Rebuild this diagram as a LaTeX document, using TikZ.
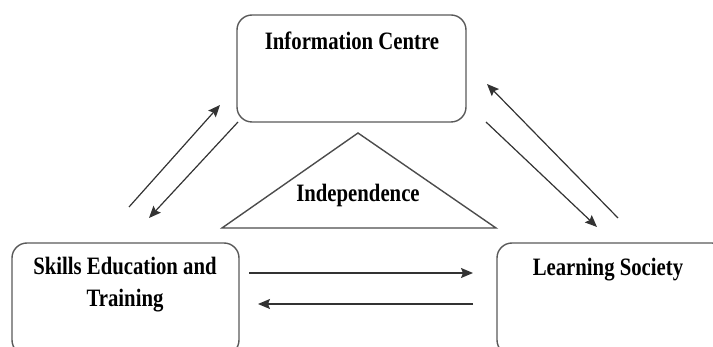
\documentclass[tikz,border=0pt]{standalone}
\usepackage{fontspec}
\setmainfont[FakeStretch=0.83]{Liberation Serif}
\usetikzlibrary{arrows.meta}
\tikzset{
  box/.style={draw=black!65, line width=1.4pt, rounded corners=15pt, inner sep=0pt},
  lbl/.style={font=\fontsize{25}{32}\selectfont\bfseries, inner sep=0pt, anchor=base, text=black},
  conn/.style={draw=black!80, line width=1.2pt, -{Stealth[length=12pt,width=10pt,inset=2pt]}},
}
\begin{document}
\begin{tikzpicture}[x=1pt,y=-1pt]
\useasboundingbox (0,0) rectangle (713,347);
\clip (0,0) rectangle (713,347);
% boxes
\node[box, minimum width=229pt, minimum height=107pt] (info) at (351.5,68.5) {};
\node[box, minimum width=227pt, minimum height=112pt] (skills) at (125.5,299) {};
\node[box, minimum width=230pt, minimum height=112pt] (learn) at (612,299) {};
% labels
\node[lbl] (infot) at (352,50) {Information Centre};
\node[lbl] (skillst1) at (125,275) {Skills Education and};
\node[lbl] (skillst2) at (125,307) {Training};
\node[lbl] (learnt) at (608,276) {Learning Society};
% triangle
\coordinate (tA) at (358,133);
\coordinate (tL) at (222,228);
\coordinate (tR) at (496,228);
\draw[draw=black!70, line width=1.4pt, line join=miter] (tA) -- (tL) -- (tR) -- cycle;
\node[lbl] (indep) at (358,202) {Independence};
% arrow end points
\coordinate (a1s) at (129,207);
\coordinate (a1e) at (220,105);
\coordinate (a2s) at (238,122);
\coordinate (a2e) at (149,218);
\coordinate (a3s) at (618,218);
\coordinate (a3e) at (487,84);
\coordinate (a4s) at (486,122);
\coordinate (a4e) at (597,227);
\coordinate (a5s) at (249,273);
\coordinate (a5e) at (473,273);
\coordinate (a6s) at (473,304);
\coordinate (a6e) at (258,304);
\draw[conn] (a1s) -- (a1e);
\draw[conn] (a2s) -- (a2e);
\draw[conn] (a3s) -- (a3e);
\draw[conn] (a4s) -- (a4e);
\draw[conn] (a5s) -- (a5e);
\draw[conn] (a6s) -- (a6e);
\end{tikzpicture}
\end{document}
